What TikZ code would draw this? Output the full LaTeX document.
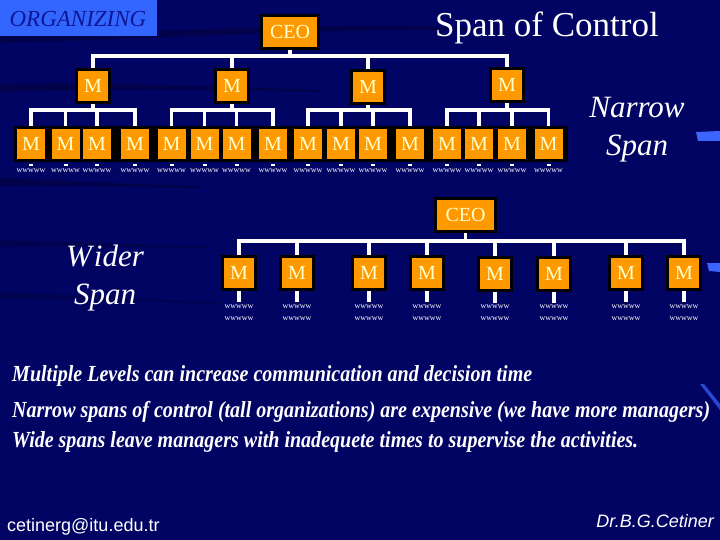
\documentclass[tikz,border=0pt]{standalone}
\usepackage{fontspec}
\setmainfont{Liberation Serif}
\newfontfamily\arialfont{Liberation Sans}
\usetikzlibrary{calc}
\definecolor{bgblue}{RGB}{2,4,100}
\definecolor{orgbox}{RGB}{51,102,255}
\definecolor{orgtext}{RGB}{14,22,150}
\definecolor{orng}{RGB}{255,153,0}
\definecolor{mtext}{RGB}{255,255,204}
\definecolor{streak}{RGB}{60,100,255}
\begin{document}
\begin{tikzpicture}[x=1pt,y=-1pt,
  mbox/.style={draw=black,line width=3pt,fill=orng,text=mtext,minimum width=33pt,minimum height=33pt,inner sep=0pt,font=\fontsize{20}{20}\selectfont},
  sbox/.style={mbox,minimum width=31pt},
  conn/.style={draw=white,line width=3.5pt},
  tinytxt/.style={text=white,font=\fontsize{8}{12}\selectfont,inner sep=0pt,align=center},
  bigital/.style={text=white,font=\fontsize{31}{38}\selectfont\itshape,inner sep=0pt,align=center},
  bottxt/.style={text=white,anchor=base west,inner sep=0pt},
]
\useasboundingbox (0,0) rectangle (720,540);
\fill[bgblue] (0,0) rectangle (720,540);
% background streaks
\fill[black,opacity=0.25] (0,36) .. controls (200,30) and (350,22) .. (480,28) -- (480,31) .. controls (350,27) and (200,37) .. (0,43) -- cycle;
\fill[black,opacity=0.25] (0,84) .. controls (100,82) and (200,86) .. (320,90) -- (320,92) .. controls (200,89) and (100,89) .. (0,92) -- cycle;
\fill[black,opacity=0.25] (0,178) .. controls (60,180) and (120,184) .. (200,186) -- (200,188) .. controls (120,187) and (60,185) .. (0,186) -- cycle;
\fill[black,opacity=0.2] (0,240) .. controls (60,241) and (120,244) .. (210,246) -- (210,248) .. controls (120,247) and (60,246) .. (0,247) -- cycle;
\fill[black,opacity=0.2] (0,292) .. controls (60,294) and (120,298) .. (220,302) -- (220,304) .. controls (120,301) and (60,299) .. (0,299) -- cycle;
\fill[streak] (696,132) -- (720,131) -- (720,141) -- (698,141) -- cycle;
\fill[streak] (707,263) -- (720,263) -- (720,272) -- (709,271) -- cycle;
\fill[streak,opacity=0.7] (700,384) -- (704,384) -- (720,404) -- (720,410) -- cycle;

% title box
\fill[orgbox] (0,0) rectangle (157,36);
\node[text=orgtext,font=\fontsize{23}{23}\selectfont\itshape,inner sep=0pt] (org) at (78,19) {ORGANIZING};
\node[text=white,font=\fontsize{35}{35}\selectfont,inner sep=0pt,anchor=base] (title) at (547,37) {Span of Control};

% ---------- narrow (tall) chart ----------
\node[mbox,minimum width=57pt] (ceo) at (290,32) {CEO};
\node[mbox] (m1) at (93,86) {M};
\node[mbox] (m2) at (232,86) {M};
\node[mbox] (m3) at (368,87) {M};
\node[mbox] (m4) at (507,85) {M};
\coordinate (bus0) at (0,56);
\coordinate (bus1) at (0,110);
\draw[conn] (ceo.south) -- (ceo.south |- bus0);
\draw[conn,line join=miter] (m1.north) -- (m1.north |- bus0) -- (m4.north |- bus0) -- (m4.north);
\draw[conn] (m2.north |- bus0) -- (m2.north);
\draw[conn] (m3.north |- bus0) -- (m3.north);

\fill[black] (14,126) rectangle (568,162);
\foreach \x [count=\i] in {31,65.5,97,135,171.5,204.5,236.5,273,308,341,373,410,447,479,512,548.5}{
  \node[sbox] (r\i) at (\x,144) {M};
  \fill[white] ($(r\i.south)+(-2,2)$) rectangle ($(r\i.south)+(2,4)$);
  \node[tinytxt] (rt\i) at (\x,171) {wwwww};
}
\foreach \p/\a/\b in {1/1/4,2/5/8,3/9/12,4/13/16}{
  \draw[conn] (m\p.south) -- (m\p.south |- bus1);
  \draw[conn,line join=miter] (r\a.north) -- (r\a.north |- bus1) -- (r\b.north |- bus1) -- (r\b.north);
}
\foreach \c in {2,3,6,7,10,11,14,15}{
  \draw[conn] (r\c.north |- bus1) -- (r\c.north);
}
\node[bigital] (narrow) at (637,130) {Narrow\\Span};

% ---------- wide (flat) chart ----------
\node[mbox,minimum width=60pt] (ceob) at (465.5,215) {CEO};
\coordinate (bus2) at (0,241);
\foreach \x/\y [count=\i] in {239/273,297/273,369/273,427/273,495/274,554/274,626/273,684/273}{
  \node[mbox] (w\i) at (\x,\y) {M};
  \draw[conn] (w\i.south) -- ++(0,11);
  \node[tinytxt] (wt\i) at (\x,313) {wwwww\\wwwww};
}
\draw[conn] (ceob.south) -- (ceob.south |- bus2);
\draw[conn,line join=miter] (w1.north) -- (w1.north |- bus2) -- (w8.north |- bus2) -- (w8.north);
\foreach \c in {2,...,7}{
  \draw[conn] (w\c.north |- bus2) -- (w\c.north);
}
\node[bigital] (wider) at (105,278) {W\kern2pt ider\\Span};

% ---------- bottom text ----------
\node[bottxt] (l1) at (12,381) {\resizebox{520pt}{\height}{\fontsize{23}{23}\selectfont\bfseries\itshape Multiple Levels can increase communication and decision time}};
\node[bottxt] (l2) at (12,417) {\resizebox{698pt}{\height}{\fontsize{23}{23}\selectfont\bfseries\itshape Narrow spans of control (tall organizations) are expensive (we have more managers)}};
\node[bottxt] (l3) at (12,447) {\resizebox{626pt}{\height}{\fontsize{23}{23}\selectfont\bfseries\itshape Wide spans leave managers with inadequete times to supervise the activities.}};

\node[text=white,font=\arialfont\fontsize{18}{18}\selectfont,anchor=base west,inner sep=0pt] (mail) at (7,531) {cetinerg@itu.edu.tr};
\node[text=white,font=\arialfont\fontsize{18}{18}\selectfont\itshape,anchor=base east,inner sep=0pt] (auth) at (714,527) {Dr.B.G.Cetiner};
\end{tikzpicture}
\end{document}
